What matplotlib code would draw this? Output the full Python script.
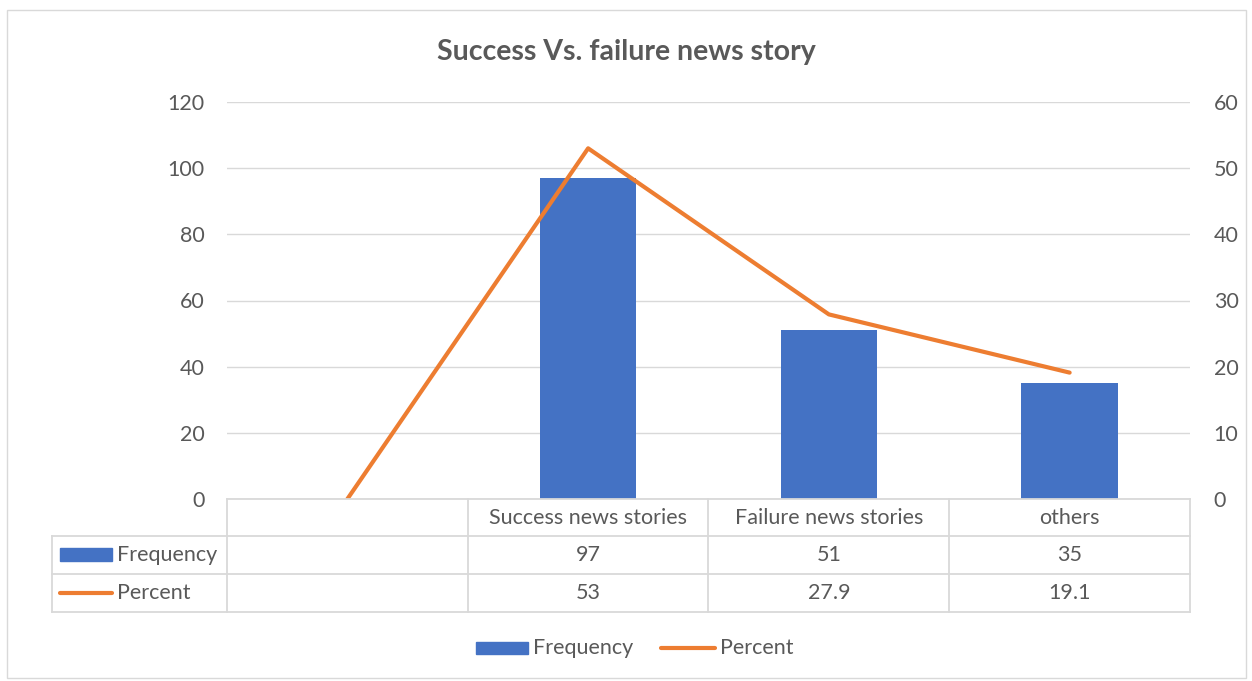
import numpy as np
import matplotlib
matplotlib.use("Agg")
import matplotlib.pyplot as plt
from matplotlib.patches import Rectangle
from matplotlib.lines import Line2D

categories = ["", "Success news stories", "Failure news stories", "others"]
frequency = [np.nan, 97, 51, 35]
percent = [np.nan, 53, 27.9, 19.1]
left_ticks = [0, 20, 40, 60, 80, 100, 120]
right_ticks = [0, 10, 20, 30, 40, 50, 60]
title = "Success Vs. failure news story"

BLUE = "#4472C4"
ORANGE = "#ED7D31"
TXT = "#595959"
GRID = "#D9D9D9"
FONT = ["Lato", "DejaVu Sans"]
FS = 15.5

W, H = 1252, 681
fig = plt.figure(figsize=(W / 100, H / 100), dpi=100)
plt.rcParams['font.family'] = FONT

def fx(px):
    return px / W

def fy(py):
    return 1 - py / H

# chart border
fig.add_artist(Rectangle((fx(7), fy(678)), fx(1246 - 7), fy(10) - fy(678),
                         transform=fig.transFigure, fill=False, edgecolor=GRID, lw=1))

x0, x1, ytop, ybot = 227, 1190, 102, 499
ax = fig.add_axes([fx(x0), fy(ybot), fx(x1 - x0), fy(ytop) - fy(ybot)])
ax2 = ax.twinx()

x = np.arange(len(categories))
freq_plot = np.nan_to_num(np.array(frequency, dtype=float))
pct_plot = np.nan_to_num(np.array(percent, dtype=float))

ax.bar(x, freq_plot, width=0.4, color=BLUE, zorder=3)
ax2.plot(x, pct_plot, color=ORANGE, lw=3, solid_capstyle='round', zorder=4)

ax.set_xlim(-0.5, len(categories) - 0.5)
ax.set_ylim(0, 120)
ax2.set_ylim(0, 60)
ax.set_yticks(left_ticks)
ax2.set_yticks(right_ticks)
ax.set_xticks([])
ax.yaxis.grid(True, color=GRID, lw=1, zorder=0)
ax.set_axisbelow(True)
for a in (ax, ax2):
    for s in a.spines.values():
        s.set_visible(False)
    a.tick_params(length=0, labelsize=FS, colors=TXT)
ax.tick_params(axis='y', pad=16)
ax2.tick_params(axis='y', pad=17)

fig.text(0.5, fy(52), title, ha='center', va='center', fontsize=20.5,
         fontweight='bold', color=TXT)

# data table
col_edges = [x0 + i * (x1 - x0) / len(categories) for i in range(len(categories) + 1)]
row_edges = [499, 536, 574, 612]
tleft = 52
lc = dict(color=GRID, lw=1.3, transform=fig.transFigure)
fig.add_artist(Line2D([fx(x0), fx(x1)], [fy(row_edges[0])] * 2, **lc))
for r in row_edges[1:]:
    fig.add_artist(Line2D([fx(tleft), fx(x1)], [fy(r)] * 2, **lc))
for c in col_edges:
    fig.add_artist(Line2D([fx(c)] * 2, [fy(row_edges[0]), fy(row_edges[-1])], **lc))
fig.add_artist(Line2D([fx(tleft)] * 2, [fy(row_edges[1]), fy(row_edges[-1])], **lc))

def fmt(v):
    if v is None or (isinstance(v, float) and np.isnan(v)):
        return ""
    return f"{v:g}"

for i, cat in enumerate(categories):
    cx = fx((col_edges[i] + col_edges[i + 1]) / 2)
    fig.text(cx, fy((row_edges[0] + row_edges[1]) / 2), cat, ha='center', va='center',
             fontsize=FS, color=TXT)
    fig.text(cx, fy((row_edges[1] + row_edges[2]) / 2), fmt(frequency[i]), ha='center',
             va='center', fontsize=FS, color=TXT)
    fig.text(cx, fy((row_edges[2] + row_edges[3]) / 2), fmt(percent[i]), ha='center',
             va='center', fontsize=FS, color=TXT)

ym1 = fy((row_edges[1] + row_edges[2]) / 2)
ym2 = fy((row_edges[2] + row_edges[3]) / 2)
fig.add_artist(Rectangle((fx(60), ym1 - 6 / H), fx(52), 13 / H, transform=fig.transFigure,
                         color=BLUE))
fig.text(fx(117), ym1, "Frequency", ha='left', va='center', fontsize=FS, color=TXT)
fig.add_artist(Line2D([fx(60), fx(112)], [ym2, ym2], color=ORANGE, lw=3,
                      solid_capstyle='round', transform=fig.transFigure))
fig.text(fx(117), ym2, "Percent", ha='left', va='center', fontsize=FS, color=TXT)

# bottom legend
yl = fy(648)
fig.add_artist(Rectangle((fx(476), yl - 6 / H), fx(52), 12 / H, transform=fig.transFigure,
                         color=BLUE))
fig.text(fx(533), yl, "Frequency", ha='left', va='center', fontsize=FS, color=TXT)
fig.add_artist(Line2D([fx(661), fx(715)], [yl, yl], color=ORANGE, lw=3,
                      solid_capstyle='round', transform=fig.transFigure))
fig.text(fx(720), yl, "Percent", ha='left', va='center', fontsize=FS, color=TXT)

fig.savefig("out.png", dpi=100)
